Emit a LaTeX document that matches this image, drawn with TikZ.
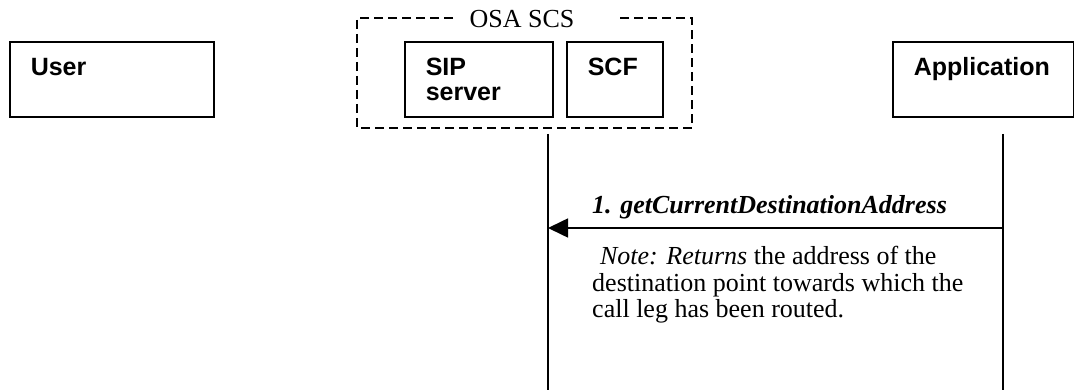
\documentclass[tikz,border=0pt]{standalone}
\usepackage{fontspec}
\setmainfont{Liberation Serif}
\setsansfont{Liberation Sans}
\usetikzlibrary{arrows.meta, positioning, calc}

\begin{document}
\begin{tikzpicture}[
    x=1pt, y=-1pt,
    >={Triangle[length=20pt, width=19pt]},
    entity/.style={rectangle, draw=black, line width=1.6pt, anchor=north west,
                   minimum height=75pt, inner xsep=21pt, inner ysep=0pt,
                   text height=34pt, text depth=41pt, align=flush left,
                   font=\sffamily\bfseries\fontsize{25}{25}\selectfont},
    group/.style={draw=black, line width=1.3pt, dash pattern=on 9pt off 5pt},
    lifeline/.style={line width=1.4pt},
    message/.style={->, line width=1.6pt},
    msgtext/.style={font=\fontsize{26}{26.5}\selectfont, inner sep=0pt,
                    anchor=base west, align=flush left}
]
\useasboundingbox (0,0) rectangle (1074,390);
% entities
\node[entity, text width=162pt] (user) at (9,41) {User};
\node[entity, text width=106pt] (sip) at (404,41) {SIP\\server};
\node[entity, text width=54pt] (scf) at (566,41) {SCF};
\node[entity, text width=139pt] (app) at (892,41) {Application};
% OSA SCS group
\node[font=\fontsize{26}{26}\selectfont, inner sep=0pt, anchor=base] (osa) at (522,28) {OSA SCS};
\draw[group] (453,18) -- (357,18) -- (357,128) -- (692,128) -- (692,18) -- (620,18);
% lifelines
\coordinate (scsTop) at (548,134);
\coordinate (scsBot) at (548,390);
\coordinate (appTop) at (1003,134);
\coordinate (appBot) at (1003,390);
\foreach \n in {scs,app} {
    \draw[lifeline] (\n Top) -- (\n Bot);
}
% messages
\draw[message] ($(appTop)+(0,94)$) -- ($(scsTop)+(0,94)$);
\node[msgtext, font=\bfseries\itshape\fontsize{26}{26.5}\selectfont] (m1) at (592,214) {1. getCurrentDestinationAddress};
\node[msgtext, text width=400pt] (note1) at (592,265) {\hspace*{0.3em}\textit{Note: Returns} the address of the\\destination point towards which the\\call leg has been routed.};
\end{tikzpicture}
\end{document}
